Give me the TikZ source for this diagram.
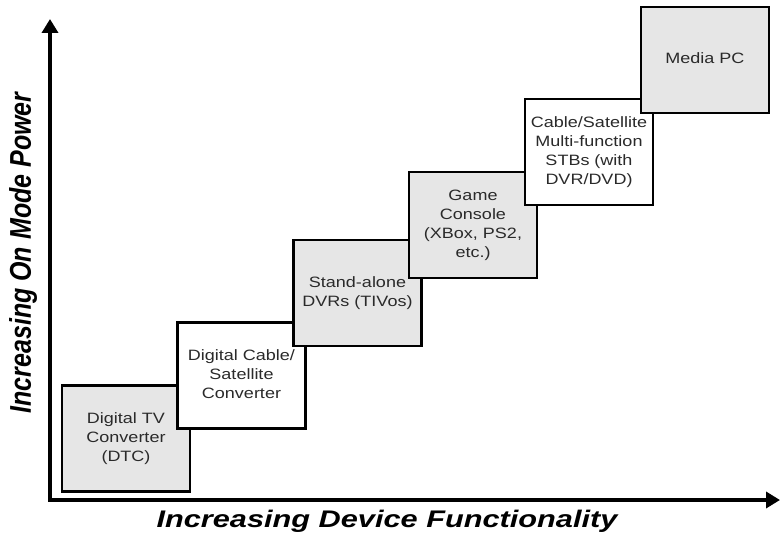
\documentclass[tikz,border=0pt]{standalone}
\usepackage{fontspec}
\setmainfont{Liberation Sans}
\usetikzlibrary{arrows.meta}
\definecolor{boxgray}{HTML}{E6E6E6}
\definecolor{boxtext}{HTML}{2A2A2A}
% box text, set a little wide
\newcommand\widelines[1]{\scalebox{1.2}[1]{\begin{tabular}{@{}c@{}}#1\end{tabular}}}
\tikzset{
  device/.style={draw=black, line width=2.5pt, minimum width=128pt, minimum height=106pt,
    inner sep=2pt, align=center, text=boxtext, font=\fontsize{15}{19}\selectfont},
  graybox/.style={device, fill=boxgray},
  whitebox/.style={device, fill=white},
  axisline/.style={line width=3.8pt, -{Triangle[length=14pt,width=16pt]}},
  axislabel/.style={inner sep=0pt}
}
\begin{document}
\begin{tikzpicture}[x=1pt,y=-1pt]
  \useasboundingbox (0,0) rectangle (780,535);

  % axes
  \coordinate (origin) at (50,500);
  \coordinate (ytip) at (50,19);
  \coordinate (xtip) at (780,500);
  \coordinate (xstart) at (48,500);
  \draw[axisline] (origin) -- (ytip);
  \draw[axisline] (xstart) -- (xtip);

  % device boxes, each one drawn over the previous
  \node[graybox]  (dtc)   at (126,438.5) {\widelines{Digital TV\\Converter\\(DTC)}};
  \node[whitebox] (dcsc)  at (241.5,375.5) {\widelines{Digital Cable/\\Satellite\\Converter}};
  \node[graybox]  (dvr)   at (357.5,293) {\widelines{Stand-alone\\DVRs (TIVos)}};
  \node[graybox]  (game)  at (473,225) {\widelines{Game\\Console\\(XBox, PS2,\\etc.)}};
  \node[whitebox] (stb)   at (589,152) {\widelines{Cable/Satellite\\Multi-function\\STBs (with\\DVR/DVD)}};
  \node[graybox]  (mpc)   at (705,60) {\widelines{Media PC}};

  % axis titles
  \node[axislabel] (xlabel) at (387,521)
    {\scalebox{1.28}[1]{\fontsize{24}{26}\selectfont\bfseries\itshape Increasing Device Functionality}};
  \node[axislabel, rotate=90] (ylabel) at (23,253)
    {\scalebox{1}[1.2]{\fontsize{25}{28}\selectfont\bfseries\itshape Increasing On Mode Power}};
\end{tikzpicture}
\end{document}
